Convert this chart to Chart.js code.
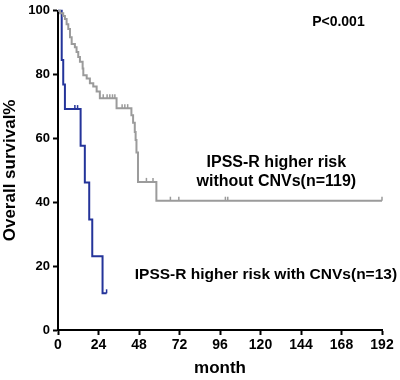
<!DOCTYPE html>
<html lang="en">
  <head>
    <meta charset="UTF-8" />
    <title>Overall survival</title>
    <script src="https://cdn.jsdelivr.net/npm/chart.js"></script>
    <style>
      html, body {
        margin: 0;
        padding: 0;
        background-color: #fff;
      }
      .chart-box {
        width: 400px;
        height: 380px;
      }
    </style>
  </head>
  <body>
    <div class="chart-box">
      <canvas id="survivalChart" width="400" height="380"></canvas>
    </div>

    <script>
      // x axis ticks (months)
      const monthTicks = [0, 24, 48, 72, 96, 120, 144, 168, 192];
      const survivalTicks = [0, 20, 40, 60, 80, 100];

      // IPSS-R higher risk without CNVs (n=119)
      const noCnvMonths = [0, 1.2, 3.1, 4.1, 5.1, 6.1, 7.1, 8.1, 10, 11, 12, 13, 14.6, 15, 17, 18.9, 20.9, 22.9, 24.8, 34.7, 43.5, 44.5, 45.5, 46, 46.5, 47.4, 58.3, 192];
      const noCnvSurvival = [100, 99.2, 98.4, 97.4, 95.8, 94.3, 91.7, 89.6, 88.6, 87.1, 85.5, 84, 81.9, 79.8, 78.8, 77.3, 76.3, 74.7, 72.6, 69.5, 67.3, 64.9, 62, 59.5, 55.6, 46.4, 40.5, 40.5];
      const noCnvCensored = [26.8, 29.1, 30.7, 32.3, 33.7, 38, 39.6, 41.3, 52.4, 56.3, 66.6, 71.6, 99.2, 100.6, 192];

      // IPSS-R higher risk with CNVs (n=13)
      const cnvMonths = [0, 2.2, 3.1, 4.1, 13.4, 15.9, 18.5, 20.3, 26.4, 28.8];
      const cnvSurvival = [100, 84.6, 76.9, 69.2, 57.7, 46.2, 34.6, 23.1, 11.5, 11.5];
      const cnvCensored = [10, 11.6, 28.8];

      const grayColor = "#9b9b9b";
      const blueColor = "#24349a";
      const fontFamily = "'Liberation Sans', Arial, sans-serif";

      function toPoints(xs, ys) {
        return xs.map(function (x, i) {
          return { x: x, y: ys[i] };
        });
      }

      function survivalAt(xs, ys, t) {
        let s = ys[0];
        for (let i = 0; i < xs.length; i++) {
          if (xs[i] <= t) s = ys[i];
        }
        return s;
      }

      function censorPoints(xs, ys, times) {
        return times.map(function (t) {
          return { x: t, y: survivalAt(xs, ys, t) };
        });
      }

      // text labels placed in data units
      const labelPlugin = {
        id: "curveLabels",
        afterDraw(chart) {
          const ctx = chart.ctx;
          const xs = chart.scales.x;
          const ys = chart.scales.y;
          ctx.save();
          ctx.fillStyle = "#000";
          ctx.textBaseline = "middle";

          ctx.font = "bold 14px " + fontFamily;
          ctx.textAlign = "left";
          ctx.fillText("P<0.001", xs.getPixelForValue(150.6), ys.getPixelForValue(96.6));

          ctx.font = "bold 16px " + fontFamily;
          ctx.textAlign = "center";
          ctx.fillText("IPSS-R higher risk", xs.getPixelForValue(129.4), ys.getPixelForValue(52.6));
          ctx.fillText("without CNVs(n=119)", xs.getPixelForValue(129.4), ys.getPixelForValue(46.4));

          ctx.font = "bold 15.5px " + fontFamily;
          ctx.textAlign = "left";
          ctx.fillText("IPSS-R higher risk with CNVs(n=13)", xs.getPixelForValue(45.5), ys.getPixelForValue(17.3));
          ctx.restore();
        },
      };

      const ctx = document.getElementById("survivalChart").getContext("2d");
      new Chart(ctx, {
        type: "scatter",
        data: {
          datasets: [
            {
              label: "without CNVs",
              data: toPoints(noCnvMonths, noCnvSurvival),
              showLine: true,
              stepped: true,
              borderColor: grayColor,
              borderWidth: 2,
              pointRadius: 0,
              clip: false,
            },
            {
              label: "with CNVs",
              data: toPoints(cnvMonths, cnvSurvival),
              showLine: true,
              stepped: true,
              borderColor: blueColor,
              borderWidth: 2,
              pointRadius: 0,
              clip: false,
            },
            {
              label: "censored without CNVs",
              data: censorPoints(noCnvMonths, noCnvSurvival, noCnvCensored),
              pointStyle: "dash",
              rotation: -90,
              pointRadius: 4,
              borderColor: grayColor,
              borderWidth: 1.5,
              clip: false,
            },
            {
              label: "censored with CNVs",
              data: censorPoints(cnvMonths, cnvSurvival, cnvCensored),
              pointStyle: "dash",
              rotation: -90,
              pointRadius: 4,
              borderColor: blueColor,
              borderWidth: 1.5,
              clip: false,
            },
          ],
        },
        options: {
          responsive: false,
          animation: false,
          layout: {
            padding: { top: 6, right: 18, left: 0, bottom: 0 },
          },
          plugins: {
            legend: { display: false },
            tooltip: { enabled: false },
          },
          scales: {
            x: {
              type: "linear",
              min: 0,
              max: 192,
              afterBuildTicks: function (scale) {
                scale.ticks = monthTicks.map(function (v) { return { value: v }; });
              },
              afterFit: function (scale) {
                scale.height = 50;
              },
              border: { color: "#000", width: 2 },
              grid: { drawOnChartArea: false, tickLength: 5, tickWidth: 2, tickColor: "#000" },
              ticks: {
                color: "#000",
                padding: 2,
                maxRotation: 0,
                autoSkip: false,
                font: { family: fontFamily, size: 14, weight: "bold" },
              },
              title: {
                display: true,
                text: "month",
                color: "#000",
                padding: { top: 0, bottom: 3 },
                font: { family: fontFamily, size: 17, weight: "bold", lineHeight: 1 },
              },
            },
            y: {
              type: "linear",
              min: 0,
              max: 100,
              afterBuildTicks: function (scale) {
                scale.ticks = survivalTicks.map(function (v) { return { value: v }; });
              },
              afterFit: function (scale) {
                scale.width = 58;
              },
              border: { color: "#000", width: 2 },
              grid: { drawOnChartArea: false, tickLength: 5, tickWidth: 2, tickColor: "#000" },
              ticks: {
                color: "#000",
                padding: 3,
                autoSkip: false,
                font: { family: fontFamily, size: 13, weight: "bold" },
              },
              title: {
                display: true,
                text: "Overall survival%",
                color: "#000",
                padding: { top: 2, bottom: 0 },
                font: { family: fontFamily, size: 17, weight: "bold", lineHeight: 1 },
              },
            },
          },
        },
        plugins: [labelPlugin],
      });
    </script>
  </body>
</html>
